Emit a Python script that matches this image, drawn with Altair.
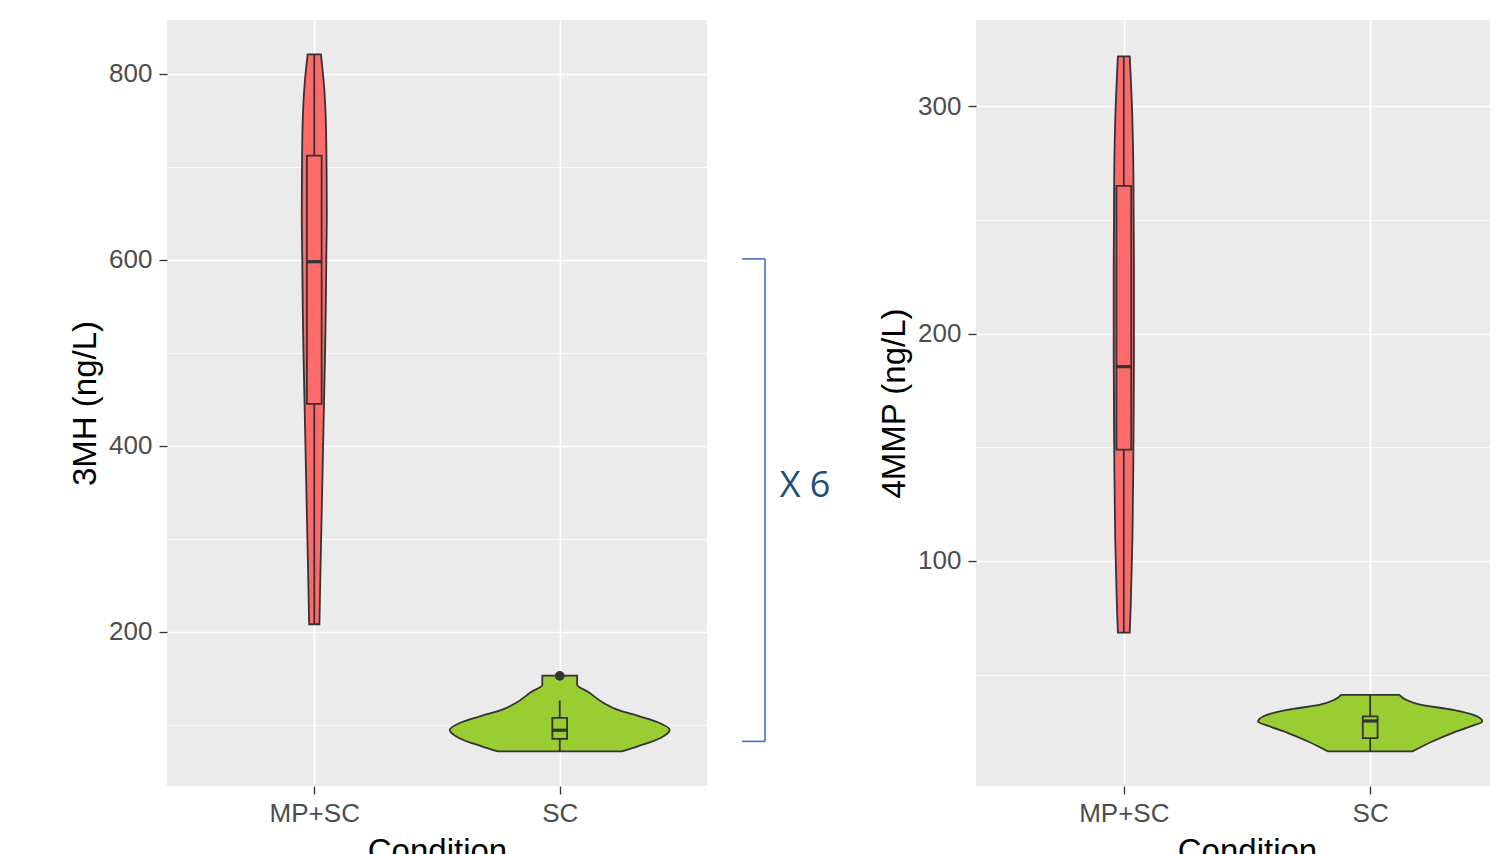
import altair as alt
import pandas as pd

# ---------------- data ----------------
conditions = ["MP+SC", "SC"]
fill_colors = ["#FF6B6B", "#9ACD32"]

# 3MH panel: violin outline (value, half-width in x units)
mh_mpsc_values = [208, 250, 300, 350, 400, 450, 500, 550, 600, 650, 700, 750, 790, 821]
mh_mpsc_halfwidth = [0.021, 0.024, 0.028, 0.032, 0.036, 0.040, 0.044, 0.047, 0.049, 0.051, 0.050, 0.047, 0.039, 0.027]
mh_sc_values = [71.3, 76.7, 85.7, 94.6, 101.8, 108.9, 116.1, 123.3, 134.8, 143.0, 152.7]
mh_sc_halfwidth = [0.253, 0.318, 0.411, 0.448, 0.407, 0.326, 0.234, 0.179, 0.118, 0.071, 0.071]
# box statistics per condition
mh_low = [208, 71.3]
mh_q1 = [445, 84.6]
mh_median = [598, 94.0]
mh_q3 = [712, 107.2]
mh_high = [821, 126]
mh_outlier_cond = ["SC"]
mh_outlier_value = [152.5]

# 4MMP panel
mmp_mpsc_values = [68.5, 80, 110, 150, 190, 230, 270, 300, 322]
mmp_mpsc_halfwidth = [0.024, 0.028, 0.035, 0.039, 0.041, 0.041, 0.039, 0.033, 0.024]
mmp_sc_values = [16.2, 20.6, 24.3, 27.2, 29.4, 31.6, 34.5, 36.7, 38.9, 41.1]
mmp_sc_halfwidth = [0.171, 0.252, 0.333, 0.407, 0.455, 0.435, 0.337, 0.207, 0.146, 0.118]
mmp_low = [68.5, 16.2]
mmp_q1 = [149, 22.1]
mmp_median = [185.5, 29.6]
mmp_q3 = [265, 31.6]
mmp_high = [322, 41.1]

# y ranges, ticks
mh_domain = [34, 858]
mh_ticks = [100, 200, 300, 400, 500, 600, 700, 800]
mh_major = 200
mmp_domain = [1, 338]
mmp_ticks = [50, 100, 150, 200, 250, 300]
mmp_major = 100

# annotation
bracket_top = [601]
bracket_bottom = [82]
bracket_text = ["X 6"]
bracket_text_value = [357]

# ---------------- helpers ----------------
BOX_HALF = 0.03
DARK = "#333333"
LW = 1.8


def violin_frame(values_list, hw_list):
    rows = []
    for i, (vals, hws) in enumerate(zip(values_list, hw_list)):
        for v, h in zip(vals, hws):
            rows.append({"cond": conditions[i], "pos": i + 1, "value": v, "hw": h})
    return pd.DataFrame(rows)


def box_frame(low, q1, med, q3, high):
    return pd.DataFrame({
        "cond": conditions, "pos": [1, 2],
        "low": low, "q1": q1, "median": med, "q3": q3, "high": high,
    })


def panel(vdf, bdf, odf, ydomain, yticks, ymajor, ytitle, width, height):
    xs = alt.Scale(domain=[0.4, 2.6], nice=False, zero=False)
    ys = alt.Scale(domain=ydomain, nice=False, zero=False)
    cs = alt.Scale(domain=conditions, range=fill_colors)
    x_axis = alt.Axis(
        values=[1, 2],
        labelExpr="['%s', '%s'][datum.value - 1]" % (conditions[0], conditions[1]),
        labelFlush=False, labelOverlap=False, titlePadding=9,
    )
    y_axis = alt.Axis(
        values=yticks,
        labelExpr="datum.value %% %d === 0 ? datum.label : ''" % ymajor,
        labelOverlap=False, labelFlush=False, titlePadding=6,
        tickOpacity={"condition": {"test": "datum.value %% %d !== 0" % ymajor, "value": 0}, "value": 1},
        gridWidth={"condition": {"test": "datum.value %% %d !== 0" % ymajor, "value": 0.8}, "value": 1.6},
    )
    X = lambda f: alt.X(f, scale=xs, axis=x_axis, title="Condition", stack=False)
    Y = lambda f: alt.Y(f, scale=ys, axis=y_axis, title=ytitle, stack=False)
    color = alt.Color("cond:N", scale=cs, legend=None)

    violins = alt.Chart(vdf).transform_calculate(
        lo="datum.pos - datum.hw", hi="datum.pos + datum.hw"
    ).mark_area(orient="horizontal", stroke=DARK, strokeWidth=LW, interpolate="monotone",
                opacity=1).encode(
        y=Y("value:Q"), x=X("lo:Q"), x2="hi:Q", color=color, detail="cond:N",
    )
    base_box = alt.Chart(bdf).transform_calculate(
        blo="datum.pos - %f" % BOX_HALF, bhi="datum.pos + %f" % BOX_HALF
    )
    whisk = base_box.mark_rule(color=DARK, strokeWidth=LW).encode(
        x=X("pos:Q"), y=Y("low:Q"), y2="high:Q"
    )
    rect = base_box.mark_rect(stroke=DARK, strokeWidth=LW, opacity=1).encode(
        x=X("blo:Q"), x2="bhi:Q", y=Y("q1:Q"), y2="q3:Q", color=color
    )
    med = base_box.mark_rule(color=DARK, strokeWidth=3.2).encode(
        x=X("blo:Q"), x2="bhi:Q", y=Y("median:Q")
    )
    layers = [violins, whisk, rect, med]
    if odf is not None:
        pts = alt.Chart(odf).mark_circle(size=95, color=DARK, opacity=1).encode(
            x=X("pos:Q"), y=Y("value:Q")
        )
        layers.append(pts)
    return alt.layer(*layers).properties(
        width=width, height=height, view=alt.ViewBackground(fill="#EBEBEB", strokeWidth=0)
    )


mh_v = violin_frame([mh_mpsc_values, mh_sc_values], [mh_mpsc_halfwidth, mh_sc_halfwidth])
mh_b = box_frame(mh_low, mh_q1, mh_median, mh_q3, mh_high)
mh_o = pd.DataFrame({"cond": mh_outlier_cond,
                     "pos": [conditions.index(c) + 1 for c in mh_outlier_cond],
                     "value": mh_outlier_value})
mmp_v = violin_frame([mmp_mpsc_values, mmp_sc_values], [mmp_mpsc_halfwidth, mmp_sc_halfwidth])
mmp_b = box_frame(mmp_low, mmp_q1, mmp_median, mmp_q3, mmp_high)

left = panel(mh_v, mh_b, mh_o, mh_domain, mh_ticks, mh_major, "3MH (ng/L)", 540, 766)
right = panel(mmp_v, mmp_b, None, mmp_domain, mmp_ticks, mmp_major, "4MMP (ng/L)", 542, 766)

# middle annotation (bracket "X 6") sharing the 3MH value scale
bdf = pd.DataFrame({"top": bracket_top, "bottom": bracket_bottom,
                    "label": bracket_text, "label_at": bracket_text_value})
ys_mid = alt.Scale(domain=mh_domain, nice=False, zero=False)
BLUE = "#4472C4"
vline = alt.Chart(bdf).mark_rule(color=BLUE, strokeWidth=1.6).encode(
    x=alt.value(58), y=alt.Y("top:Q", scale=ys_mid, axis=None), y2="bottom:Q")
arm_top = alt.Chart(bdf).mark_rule(color=BLUE, strokeWidth=1.6).encode(
    x=alt.value(35), x2=alt.value(58), y=alt.Y("top:Q", scale=ys_mid, axis=None))
arm_bot = alt.Chart(bdf).mark_rule(color=BLUE, strokeWidth=1.6).encode(
    x=alt.value(35), x2=alt.value(58), y=alt.Y("bottom:Q", scale=ys_mid, axis=None))
label = alt.Chart(bdf).mark_text(font="Open Sans", fontSize=36, color="#1F4E79",
                                 align="center", baseline="middle").encode(
    x=alt.value(98), y=alt.Y("label_at:Q", scale=ys_mid, axis=None), text="label:N")
middle = alt.layer(vline, arm_top, arm_bot, label).properties(
    width=171, height=766, view=alt.ViewBackground(fill="white", strokeWidth=0))

chart = alt.hconcat(left, middle, right, spacing=0).properties(
    padding={"left": 61, "top": 12, "right": -28, "bottom": 0}
).configure_view(strokeWidth=0).configure_axis(
    domain=False, tickColor=DARK, tickWidth=1.3, tickSize=8,
    labelColor="#4D4D4D", labelFontSize=26, labelFont="Liberation Sans",
    titleFont="Liberation Sans", titleFontSize=33, titleFontWeight="normal", titleColor="#000000",
    gridColor="white", gridWidth=1.6,
).configure_axisX(labelPadding=6).configure_axisY(labelPadding=7)

chart.save("out.html", embed_options={"renderer": "svg", "actions": False})
